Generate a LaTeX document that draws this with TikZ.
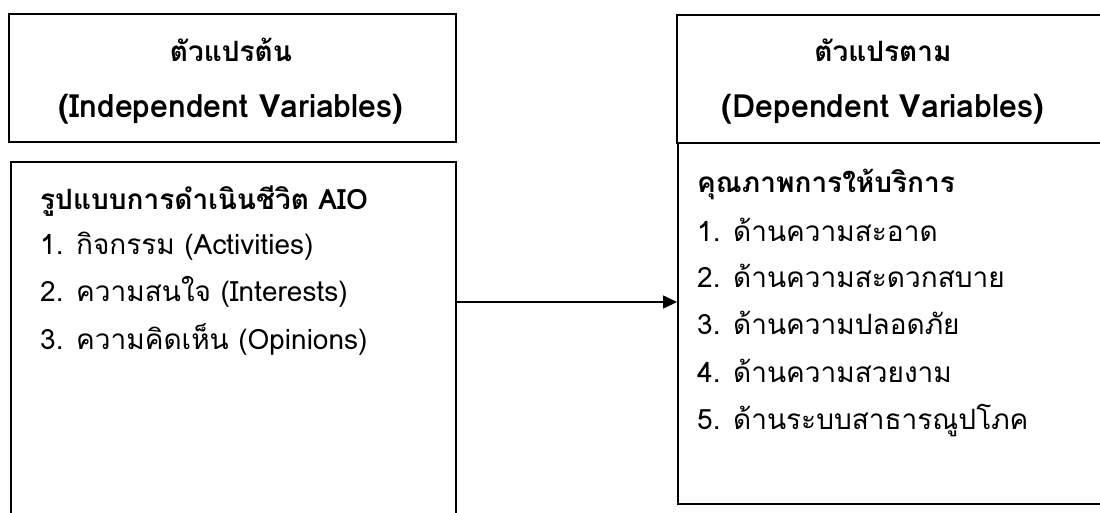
\documentclass[tikz,border=0pt]{standalone}
\usepackage{fontspec}
\setmainfont[Script=Thai]{Loma}
\usetikzlibrary{arrows.meta}
\tikzset{
  box/.style={draw=black, line width=1.8pt, anchor=north west, inner sep=0pt},
  ttl/.style={font=\bfseries\fontsize{28}{32}\selectfont, anchor=base, inner sep=0pt},
  ttlen/.style={font=\bfseries\fontsize{32}{36}\selectfont, anchor=base, inner sep=0pt},
  itm/.style={font=\fontsize{28}{32}\selectfont, anchor=base west, inner sep=0pt},
  hd/.style={font=\bfseries\fontsize{28}{32}\selectfont, anchor=base west, inner sep=0pt},
  conn/.style={line width=1.6pt, -{Triangle[length=14pt,width=13pt]}}
}
\begin{document}
\begin{tikzpicture}[x=1pt,y=-1pt]
\useasboundingbox[fill=white] (0,0) rectangle (1100,512);
% boxes
\node[box, minimum width=447pt, minimum height=128pt] (tl) at (8,13) {};
\node[box, minimum width=445pt, minimum height=380pt] (bl) at (10,161) {};
\node[box, minimum width=430pt, minimum height=128pt] (tr) at (676,14) {};
\node[box, minimum width=430pt, minimum height=361pt] (br) at (677,142) {};
% titles
\node[ttl]   (tl1) at (231,61) {ตัวแปรต้น};
\node[ttlen] (tl2) at (231,117) {(Independent Variables)};
\node[ttl]   (tr1) at (883,61) {ตัวแปรตาม};
\node[ttlen] (tr2) at (883,117) {(Dependent Variables)};
% left list
\node[hd]  (lh) at (40,209) {รูปแบบการดำเนินชีวิต AIO};
\node[itm] (l1) at (40,254) {1. กิจกรรม (Activities)};
\node[itm] (l2) at (40,301) {2. ความสนใจ (Interests)};
\node[itm] (l3) at (40,349) {3. ความคิดเห็น (Opinions)};
% right list
\node[hd]  (rh) at (697,192) {คุณภาพการให้บริการ};
\node[itm] (r1) at (697,241) {1. ด้านความสะอาด};
\node[itm] (r2) at (697,287) {2. ด้านความสะดวกสบาย};
\node[itm] (r3) at (697,334) {3. ด้านความปลอดภัย};
\node[itm] (r4) at (697,382) {4. ด้านความสวยงาม};
\node[itm] (r5) at (697,429) {5. ด้านระบบสาธารณูปโภค};
% connector
\coordinate (ay) at (0,302);
\draw[conn] (bl.east |- ay) -- (br.west |- ay);
\end{tikzpicture}
\end{document}
